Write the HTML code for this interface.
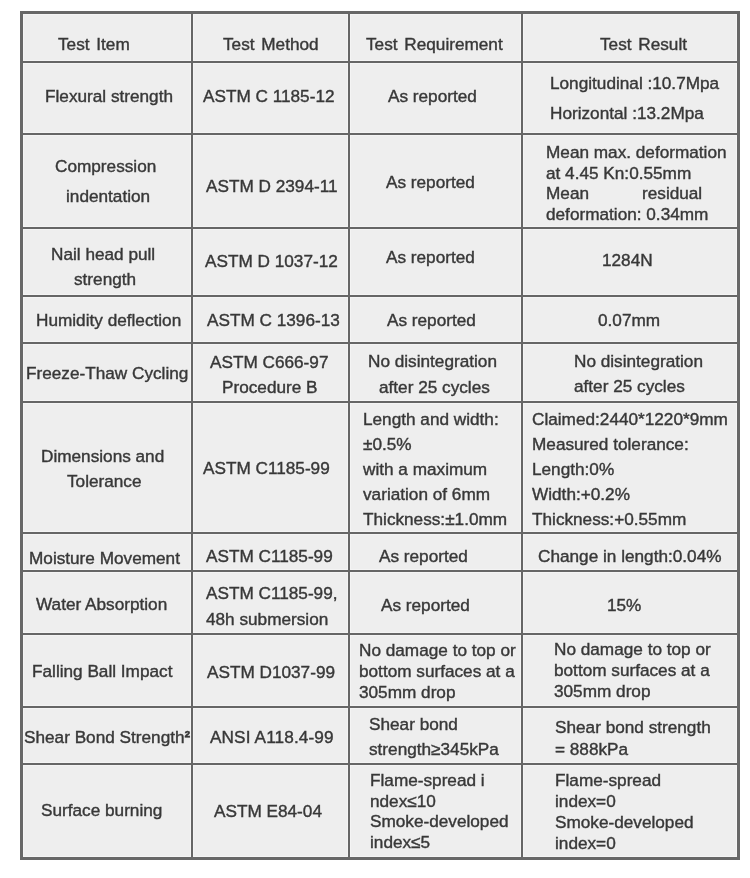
<!DOCTYPE html>
<html><head><meta charset="utf-8"><title>Test Table</title>
<style>
html,body{margin:0;padding:0;background:#fff;width:750px;height:878px;overflow:hidden}
table{position:absolute;left:20px;top:11px;border:3px solid #676767;border-collapse:separate;border-spacing:0;table-layout:fixed;width:720px;background:#eeeeee}
td,th{position:relative;padding:0;border:0 solid #666666;border-right-width:2px;border-bottom-width:2px;box-shadow:inset 1px 1px 0 #f4f4f4,inset -1px -1px 0 #f4f4f4;vertical-align:top;font-weight:normal;text-align:left}
td.lc,th.lc{border-right-width:0}
td.lr{border-bottom-width:0}
span{position:absolute;will-change:transform;-webkit-text-stroke:0.4px #383838;font-family:"Liberation Sans",Arial,sans-serif;font-size:17.2px;line-height:20px;color:#383838;white-space:pre}
.h{word-spacing:2px}
.ls1{letter-spacing:0.12px}
sup{font-size:inherit;vertical-align:baseline;font-weight:bold}
</style></head><body>
<table>
<colgroup><col style="width:170px"><col style="width:157px"><col style="width:173px"><col style="width:214px"></colgroup>
<tr style="height:49px">
<th><span class="h" style="left:34.9px;top:20px">Test Item</span></th>
<th><span class="h" style="left:30.2px;top:20px">Test Method</span></th>
<th><span class="h" style="left:16.2px;top:20px">Test Requirement</span></th>
<th class="lc"><span class="h" style="left:76.5px;top:20px">Test Result</span></th>
</tr>
<tr style="height:72px">
<td><span style="left:22.2px;top:23px">Flexural strength</span></td>
<td><span style="left:9.5px;top:23px">ASTM C 1185-12</span></td>
<td><span style="left:37.8px;top:23px">As reported</span></td>
<td class="lc"><span style="left:26.9px;top:10px">Longitudinal :10.7Mpa</span><span style="left:26.9px;top:40px">Horizontal :13.2Mpa</span></td>
</tr>
<tr style="height:94px">
<td><span style="left:32.2px;top:21px">Compression</span><span style="left:42.6px;top:51px">indentation</span></td>
<td><span style="left:12.5px;top:41px">ASTM D 2394-11</span></td>
<td><span style="left:35.6px;top:37px">As reported</span></td>
<td class="lc"><span style="left:22.9px;top:7px">Mean max. deformation</span><span style="left:22.9px;top:28px">at 4.45 Kn:0.55mm</span><span style="left:22.9px;top:48px">Mean</span><span style="left:119.0px;top:48px">residual</span><span style="left:22.9px;top:69px">deformation: 0.34mm</span></td>
</tr>
<tr style="height:68px">
<td><span style="left:27.5px;top:15px">Nail head pull</span><span style="left:50.9px;top:40px">strength</span></td>
<td><span style="left:11.9px;top:22px">ASTM D 1037-12</span></td>
<td><span style="left:35.6px;top:18px">As reported</span></td>
<td class="lc"><span style="left:78.5px;top:21px">1284N</span></td>
</tr>
<tr style="height:47px">
<td><span style="left:12.9px;top:13px">Humidity deflection</span></td>
<td><span style="left:13.8px;top:13px">ASTM C 1396-13</span></td>
<td><span style="left:36.7px;top:13px">As reported</span></td>
<td class="lc"><span style="left:74.8px;top:13px">0.07mm</span></td>
</tr>
<tr style="height:59px">
<td><span style="left:2.5px;top:19px">Freeze-Thaw Cycling</span></td>
<td><span style="left:17.4px;top:8px">ASTM C666-97</span><span style="left:28.5px;top:33px">Procedure B</span></td>
<td><span style="left:17.8px;top:7px">No disintegration</span><span style="left:28.7px;top:33px">after 25 cycles</span></td>
<td class="lc"><span style="left:50.6px;top:7px">No disintegration</span><span style="left:50.6px;top:32px">after 25 cycles</span></td>
</tr>
<tr style="height:131px">
<td><span style="left:17.8px;top:43px">Dimensions and</span><span style="left:43.8px;top:68px">Tolerance</span></td>
<td><span style="left:10.2px;top:55px">ASTM C1185-99</span></td>
<td><span style="left:13.3px;top:6px">Length and width:</span><span style="left:13.3px;top:31px">±0.5%</span><span style="left:13.3px;top:56px">with a maximum</span><span style="left:13.3px;top:81px">variation of 6mm</span><span style="left:13.3px;top:106px">Thickness:±1.0mm</span></td>
<td class="lc"><span style="left:9.2px;top:6px">Claimed:2440*1220*9mm</span><span style="left:9.2px;top:31px">Measured tolerance:</span><span style="left:9.2px;top:56px">Length:0%</span><span style="left:9.2px;top:81px">Width:+0.2%</span><span style="left:9.2px;top:106px">Thickness:+0.55mm</span></td>
</tr>
<tr style="height:38px">
<td><span style="left:5.7px;top:14px">Moisture Movement</span></td>
<td><span style="left:12.8px;top:12px">ASTM C1185-99</span></td>
<td><span style="left:28.9px;top:12px">As reported</span></td>
<td class="lc"><span style="left:14.5px;top:12px">Change in length:0.04%</span></td>
</tr>
<tr style="height:63px">
<td><span style="left:12.5px;top:22px">Water Absorption</span></td>
<td><span style="left:12.8px;top:11px">ASTM C1185-99,</span><span style="left:12.8px;top:37px">48h submersion</span></td>
<td><span style="left:30.7px;top:23px">As reported</span></td>
<td class="lc"><span style="left:83.7px;top:23px">15%</span></td>
</tr>
<tr style="height:73px">
<td><span style="left:8.7px;top:26px">Falling Ball Impact</span></td>
<td><span style="left:14.2px;top:27px">ASTM D1037-99</span></td>
<td><span style="left:8.8px;top:5px">No damage to top or</span><span style="left:8.8px;top:26px">bottom surfaces at a</span><span style="left:8.8px;top:47px">305mm drop</span></td>
<td class="lc"><span style="left:30.8px;top:4px">No damage to top or</span><span style="left:30.8px;top:25px">bottom surfaces at a</span><span style="left:30.8px;top:46px">305mm drop</span></td>
</tr>
<tr style="height:57px">
<td><span style="left:0.9px;top:19px">Shear Bond Strength<sup>²</sup></span></td>
<td><span class="ls1" style="left:16.8px;top:19px">ANSI A118.4-99</span></td>
<td><span style="left:19.3px;top:6px">Shear bond</span><span style="left:19.3px;top:31px">strength≥345kPa</span></td>
<td class="lc"><span style="left:32.0px;top:9px">Shear bond strength</span><span style="left:32.0px;top:31px">= 888kPa</span></td>
</tr>
<tr style="height:92px">
<td class="lr"><span style="left:18.4px;top:35px">Surface burning</span></td>
<td class="lr"><span style="left:20.9px;top:36px">ASTM E84-04</span></td>
<td class="lr"><span style="left:20.2px;top:5px">Flame-spread i</span><span style="left:20.2px;top:26px">ndex≤10</span><span style="left:20.2px;top:46px">Smoke-developed</span><span style="left:20.2px;top:67px">index≤5</span></td>
<td class="lc lr"><span style="left:32.2px;top:5px">Flame-spread</span><span style="left:32.2px;top:26px">index=0</span><span style="left:32.2px;top:47px">Smoke-developed</span><span style="left:32.2px;top:68px">index=0</span></td>
</tr>
</table>
</body></html>
